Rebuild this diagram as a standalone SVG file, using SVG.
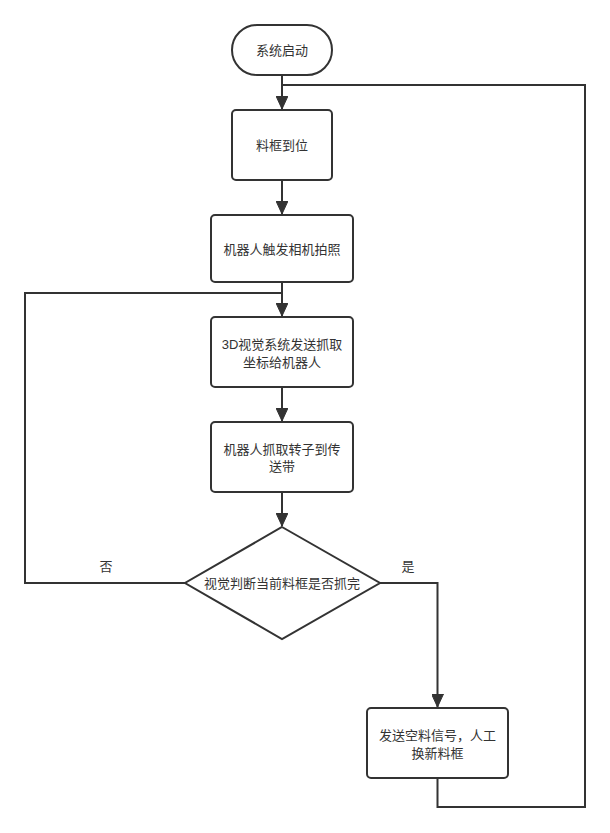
<svg xmlns="http://www.w3.org/2000/svg" width="610" height="833" viewBox="0 0 610 833">
  <style>
    .node { fill: #ffffff; stroke: #333333; stroke-width: 2; }
    .edge { fill: none; stroke: #333333; stroke-width: 2; }
    .label { font-family: "Liberation Sans", "Noto Sans CJK SC", sans-serif; font-size: 13px; fill: #333333; text-anchor: middle; dominant-baseline: central; }
  </style>
  <defs>
    <marker id="arrow" markerUnits="userSpaceOnUse" markerWidth="14" markerHeight="12" viewBox="0 0 14 12" refX="13" refY="6" orient="auto">
      <path d="M0,0 L13,6 L0,12 Z" fill="#333333" stroke="#333333" stroke-width="1"/>
    </marker>
  </defs>
  <rect width="610" height="833" fill="#ffffff"/>

  <g id="connectors">
    <path class="edge" d="M282,75 L282,109" marker-end="url(#arrow)"/>
    <path class="edge" d="M437.5,778 L437.5,807 L585,807 L585,85 L282,85"/>
    <path class="edge" d="M282,180 L282,214" marker-end="url(#arrow)"/>
    <path class="edge" d="M282,282 L282,316" marker-end="url(#arrow)"/>
    <path class="edge" d="M185,583 L25,583 L25,293 L282,293"/>
    <path class="edge" d="M282,387 L282,421" marker-end="url(#arrow)"/>
    <path class="edge" d="M282,492 L282,526" marker-end="url(#arrow)"/>
    <path class="edge" d="M380,583 L437.5,583 L437.5,707" marker-end="url(#arrow)"/>
    <text class="label" x="106" y="566">否</text>
    <text class="label" x="408" y="566">是</text>
  </g>

  <g id="start">
    <rect class="node" x="232" y="25" width="100" height="50" rx="25" ry="25"/>
    <text class="label" x="282" y="50">系统启动</text>
  </g>
  <g id="frame-ready">
    <rect class="node" x="232" y="110" width="100" height="70" rx="4" ry="4"/>
    <text class="label" x="282" y="145">料框到位</text>
  </g>
  <g id="trigger-camera">
    <rect class="node" x="211" y="215" width="142" height="67" rx="4" ry="4"/>
    <text class="label" x="282" y="249">机器人触发相机拍照</text>
  </g>
  <g id="vision-send">
    <rect class="node" x="211" y="317" width="142" height="70" rx="4" ry="4"/>
    <text class="label" x="282" y="344">3D视觉系统发送抓取</text>
    <text class="label" x="282" y="362">坐标给机器人</text>
  </g>
  <g id="robot-grab">
    <rect class="node" x="211" y="422" width="142" height="70" rx="4" ry="4"/>
    <text class="label" x="282" y="449">机器人抓取转子到传</text>
    <text class="label" x="282" y="466">送带</text>
  </g>
  <g id="decision">
    <polygon class="node" points="282,527 380,583 282,639 185,583"/>
    <text class="label" x="282" y="583">视觉判断当前料框是否抓完</text>
  </g>
  <g id="empty-signal">
    <rect class="node" x="367" y="708" width="141" height="70" rx="4" ry="4"/>
    <text class="label" x="437.5" y="735">发送空料信号，人工</text>
    <text class="label" x="437.5" y="753">换新料框</text>
  </g>
</svg>
